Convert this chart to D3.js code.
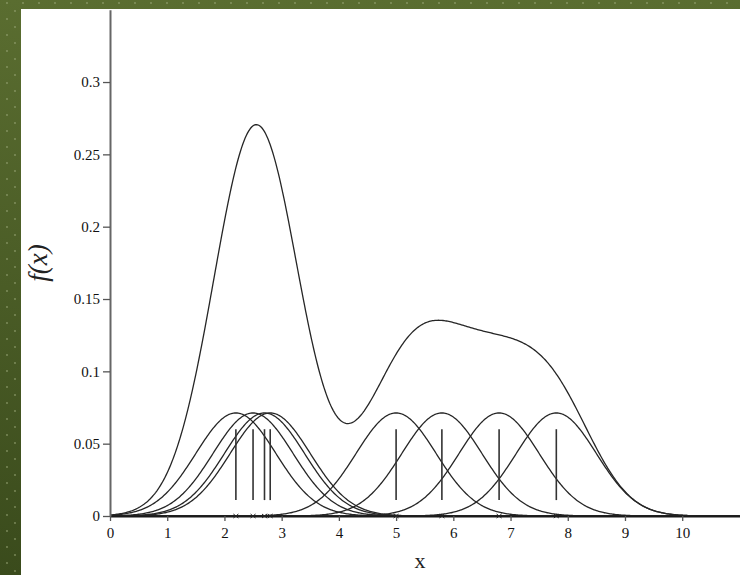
<!DOCTYPE html>
<html><head><meta charset="utf-8">
<script src="https://cdn.jsdelivr.net/npm/d3@7"></script>
<style>html,body{margin:0;padding:0;background:#4d6026;}svg{display:block;}</style>
</head><body>
<script>
// Data
const dataPoints = [2.2, 2.5, 2.7, 2.8, 5.0, 5.8, 6.8, 7.8];
const bandwidth = 0.7;
const xTicks = [0,1,2,3,4,5,6,7,8,9,10];
const yTicks = [0, 0.05, 0.1, 0.15, 0.2, 0.25, 0.3];
const yTickLabels = ["0","0.05","0.1","0.15","0.2","0.25","0.3"];
const markerRange = [0.011, 0.06];

const W = 740, H = 575;
const svg = d3.select("body").append("svg").attr("width", W).attr("height", H);
const defs = svg.append("defs");
const grad = defs.append("linearGradient").attr("id","bg").attr("x1",0).attr("y1",0).attr("x2",0).attr("y2",1);
grad.append("stop").attr("offset","0%").attr("stop-color","#5a6d30");
grad.append("stop").attr("offset","100%").attr("stop-color","#3a4b1c");
const pat = defs.append("pattern").attr("id","dots").attr("patternUnits","userSpaceOnUse").attr("width",16).attr("height",16);
pat.append("circle").attr("cx",7).attr("cy",3).attr("r",0.9).attr("fill","#9aa878").attr("opacity",0.7);
pat.append("circle").attr("cx",15).attr("cy",11).attr("r",0.9).attr("fill","#9aa878").attr("opacity",0.7);
svg.append("rect").attr("width",W).attr("height",H).attr("fill","url(#bg)");
svg.append("rect").attr("width",W).attr("height",H).attr("fill","url(#dots)");
svg.append("rect").attr("x",21).attr("y",9).attr("width",W-21).attr("height",H-9).attr("fill","#ffffff");

const x = d3.scaleLinear().domain([0, 11.01]).range([110, 740]);
const y = d3.scaleLinear().domain([0, 0.35]).range([516, 9.7]);

const n = dataPoints.length;
const gauss = (u) => Math.exp(-0.5*u*u) / Math.sqrt(2*Math.PI);
const kernel = (xi) => (t) => gauss((t - xi)/bandwidth) / (n*bandwidth);
const grid = d3.range(0, 11.01, 0.02);
const line = d3.line().x(d => x(d[0])).y(d => y(d[1])).curve(d3.curveLinear);

const curves = svg.append("g").attr("fill","none").attr("stroke","#262626").attr("stroke-width",1.3);
dataPoints.forEach(xi => {
  const k = kernel(xi);
  curves.append("path").attr("d", line(grid.map(t => [t, k(t)])));
});
const total = grid.map(t => [t, d3.sum(dataPoints, xi => kernel(xi)(t))]);
curves.append("path").attr("d", line(total));

// vertical markers
svg.append("g").selectAll("line").data(dataPoints).join("line")
  .attr("x1", d => x(d)).attr("x2", d => x(d))
  .attr("y1", y(markerRange[0])).attr("y2", y(markerRange[1]))
  .attr("stroke","#333").attr("stroke-width",1.6);

// axes
const xAxis = d3.axisBottom(x).tickValues(xTicks).tickSize(5).tickSizeOuter(0).tickFormat(d3.format("d"));
const gx = svg.append("g").attr("transform", `translate(0,${y(0)})`).call(xAxis);
gx.select(".domain").attr("stroke","#1a1a1a").attr("stroke-width",2);
gx.selectAll(".tick line").attr("stroke","#555").attr("stroke-width",1.3);
gx.selectAll(".tick text").attr("font-family","'Liberation Serif', serif").attr("font-size",15).attr("fill","#111").attr("dy","0.9em").attr("y",8);

const yAxis = d3.axisLeft(y).tickValues(yTicks).tickSize(7).tickSizeOuter(0).tickFormat((d,i) => yTickLabels[i]);
const gy = svg.append("g").attr("transform", `translate(${x(0)},0)`).call(yAxis);
gy.select(".domain").attr("stroke","#666").attr("stroke-width",2);
gy.selectAll(".tick line").attr("stroke","#555").attr("stroke-width",1.3);
gy.selectAll(".tick text").attr("font-family","'Liberation Serif', serif").attr("font-size",15).attr("fill","#111").attr("x",-10);

// rug crosses
const rug = svg.append("g").attr("stroke","#222").attr("stroke-width",1);
dataPoints.forEach(d => {
  const cx = x(d), cy = y(0);
  rug.append("path").attr("d", `M${cx-2.5},${cy-2}L${cx+2.5},${cy+2}M${cx-2.5},${cy+2}L${cx+2.5},${cy-2}`);
});

// labels
svg.append("text").attr("transform","translate(47,263) rotate(-90)")
  .attr("text-anchor","middle").attr("font-family","'Liberation Serif', serif")
  .attr("font-style","italic").attr("font-size",27).attr("fill","#222").text("f(x)");
svg.append("text").attr("x",420).attr("y",568).attr("text-anchor","middle")
  .attr("font-family","'Liberation Serif', serif").attr("font-size",22).attr("fill","#222").text("x");
</script>
</body></html>
